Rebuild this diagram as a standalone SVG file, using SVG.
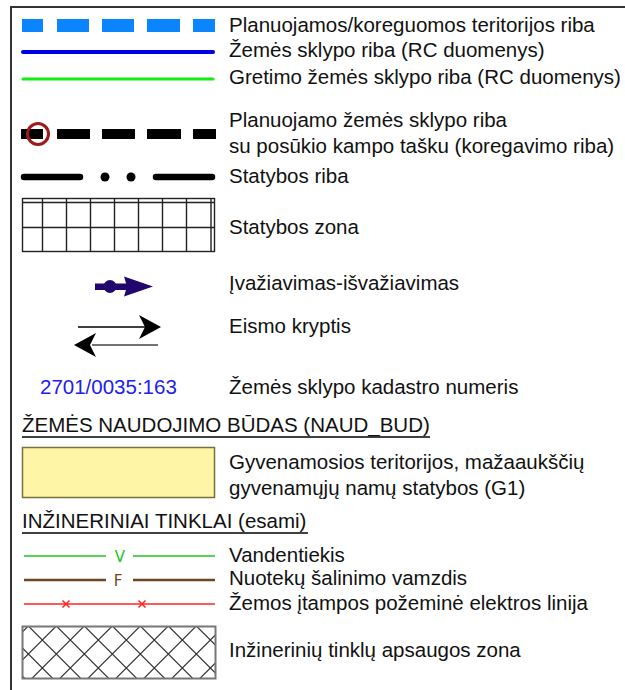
<svg xmlns="http://www.w3.org/2000/svg" width="625" height="690" viewBox="0 0 625 690">
<defs>
<style>
.t{font-family:"Liberation Sans",Arial,sans-serif;font-size:20.5px;fill:#111}
.grid{stroke:#222;stroke-width:1.4;fill:none}
.hatch{stroke:#333;stroke-width:1.2;fill:none}
</style>
<clipPath id="hc"><rect x="23" y="627" width="192" height="51"/></clipPath>
</defs>
<rect width="625" height="690" fill="#fff"/>
<path d="M11,695 L11,7 L630,7" fill="none" stroke="#333" stroke-width="2"/>

<g id="planuojamos-teritorija">
<g fill="#0a84ff">
<rect x="22" y="19" width="21" height="13"/>
<rect x="57" y="19" width="32" height="13"/>
<rect x="102" y="19" width="32" height="13"/>
<rect x="147" y="19" width="33" height="13"/>
<rect x="193" y="19" width="22" height="13"/>
</g>
<text class="t" x="229" y="32">Planuojamos/koreguomos teritorijos riba</text>
</g>

<g id="sklypo-riba">
<line x1="23" y1="52" x2="213" y2="52" stroke="#0000e6" stroke-width="4" stroke-linecap="round"/>
<text class="t" x="229" y="57">Žemės sklypo riba (RC duomenys)</text>
</g>

<g id="gretimo-sklypo-riba">
<line x1="23" y1="79" x2="213" y2="79" stroke="#11ee11" stroke-width="3" stroke-linecap="round"/>
<text class="t" x="229" y="84">Gretimo žemės sklypo riba (RC duomenys)</text>
</g>

<g id="planuojamo-sklypo-riba">
<g fill="#000">
<rect x="21" y="129" width="22" height="10"/>
<rect x="57" y="129" width="33" height="10"/>
<rect x="102" y="129" width="33" height="10"/>
<rect x="147" y="129" width="34" height="10"/>
<rect x="193" y="129" width="23" height="10"/>
</g>
<circle cx="38" cy="134" r="10.5" fill="none" stroke="#9e1b1b" stroke-width="3"/>
<text class="t" x="229" y="127">Planuojamo žemės sklypo riba</text>
<text class="t" x="229" y="153">su posūkio kampo tašku (koregavimo riba)</text>
</g>

<g id="statybos-riba">
<g stroke="#000" stroke-width="6.5" stroke-linecap="round">
<line x1="24" y1="177" x2="80" y2="177"/>
<line x1="156" y1="177" x2="212" y2="177"/>
</g>
<circle cx="105" cy="177" r="4.5" fill="#000"/>
<circle cx="131" cy="177" r="4.5" fill="#000"/>
<text class="t" x="229" y="183">Statybos riba</text>
</g>

<g id="statybos-zona">
<rect class="grid" x="22.5" y="198.5" width="192" height="53"/>
<path class="grid" d="M22.5,202.5 H214.5 M22.5,227.5 H214.5 M42.5,198.5 V251.5 M66.5,198.5 V251.5 M90.5,198.5 V251.5 M114.5,198.5 V251.5 M138.5,198.5 V251.5 M162.5,198.5 V251.5 M186.5,198.5 V251.5 M211,198.5 V251.5"/>
<text class="t" x="229" y="234">Statybos zona</text>
</g>

<g id="ivaziavimas">
<g fill="#21066e">
<rect x="95" y="283.5" width="32" height="6.5"/>
<circle cx="110" cy="286.5" r="6.5"/>
<path d="M153,286.5 L124,276.5 L127,286.5 L124,296.5 Z"/>
</g>
<text class="t" x="229" y="290">Įvažiavimas-išvažiavimas</text>
</g>

<g id="eismo-kryptis">
<line x1="78" y1="327" x2="148" y2="327" stroke="#000" stroke-width="1.3"/>
<path d="M161,327 L139,315 L145,327 L139,339 Z" fill="#000"/>
<line x1="92" y1="345" x2="158" y2="345" stroke="#444" stroke-width="1.3"/>
<path d="M74,345 L96,333 L90,345 L96,357 Z" fill="#000"/>
<text class="t" x="229" y="333">Eismo kryptis</text>
</g>

<g id="kadastro-numeris">
<text class="t" x="40" y="394" style="fill:#2020f0">2701/0035:163</text>
<text class="t" x="229" y="394">Žemės sklypo kadastro numeris</text>
</g>

<g id="naudojimo-budas-antraste">
<text class="t" x="22" y="432">ŽEMĖS NAUDOJIMO BŪDAS (NAUD_BUD)</text>
<line x1="22" y1="437" x2="430" y2="437" stroke="#000" stroke-width="1.5"/>
</g>

<g id="g1">
<rect x="22.5" y="447.5" width="192" height="50" fill="#fff5a6" stroke="#77703d" stroke-width="1.5"/>
<text class="t" x="229" y="469">Gyvenamosios teritorijos, mažaaukščių</text>
<text class="t" x="229" y="495">gyvenamųjų namų statybos (G1)</text>
</g>

<g id="inzineriniai-tinklai-antraste">
<text class="t" x="22" y="528">INŽINERINIAI TINKLAI (esami)</text>
<line x1="22" y1="533" x2="308" y2="533" stroke="#000" stroke-width="1.5"/>
</g>

<g id="vandentiekis">
<g stroke="#22c322" stroke-width="1.5">
<line x1="24" y1="556" x2="106" y2="556"/>
<line x1="133" y1="556" x2="215" y2="556"/>
</g>
<text x="120" y="561.5" text-anchor="middle" font-family="DejaVu Sans, sans-serif" font-size="15" fill="#22c322">V</text>
<text class="t" x="229" y="562">Vandentiekis</text>
</g>

<g id="nuotekos">
<g stroke="#6e4620" stroke-width="2.5">
<line x1="24" y1="580" x2="106" y2="580"/>
<line x1="133" y1="580" x2="215" y2="580"/>
</g>
<text x="118" y="585.5" text-anchor="middle" font-family="DejaVu Sans, sans-serif" font-size="15" fill="#6e4620">F</text>
<text class="t" x="229" y="585">Nuotekų šalinimo vamzdis</text>
</g>

<g id="elektros-linija">
<line x1="24" y1="604" x2="215" y2="604" stroke="#ff2222" stroke-width="1.5"/>
<path d="M62.5,600.5 L69.5,607.5 M69.5,600.5 L62.5,607.5 M138.5,600.5 L145.5,607.5 M145.5,600.5 L138.5,607.5" stroke="#ff2222" stroke-width="1.5"/>
<text class="t" x="229" y="610">Žemos įtampos požeminė elektros linija</text>
</g>

<g id="apsaugos-zona">
<g clip-path="url(#hc)">
<path class="hatch" d="M-33.7,620 L30.3,684 M-5.7,620 L58.3,684 M22.3,620 L86.3,684 M50.3,620 L114.3,684 M78.3,620 L142.3,684 M106.3,620 L170.3,684 M134.3,620 L198.3,684 M162.3,620 L226.3,684 M190.3,620 L254.3,684 M34.3,620 L-29.7,684 M62.3,620 L-1.7,684 M90.3,620 L26.3,684 M118.3,620 L54.3,684 M146.3,620 L82.3,684 M174.3,620 L110.3,684 M202.3,620 L138.3,684 M230.3,620 L166.3,684 M258.3,620 L194.3,684"/>
</g>
<rect x="22.5" y="626.5" width="193" height="52" fill="none" stroke="#777" stroke-width="2"/>
<text class="t" x="229" y="657">Inžinerinių tinklų apsaugos zona</text>
</g>
</svg>
